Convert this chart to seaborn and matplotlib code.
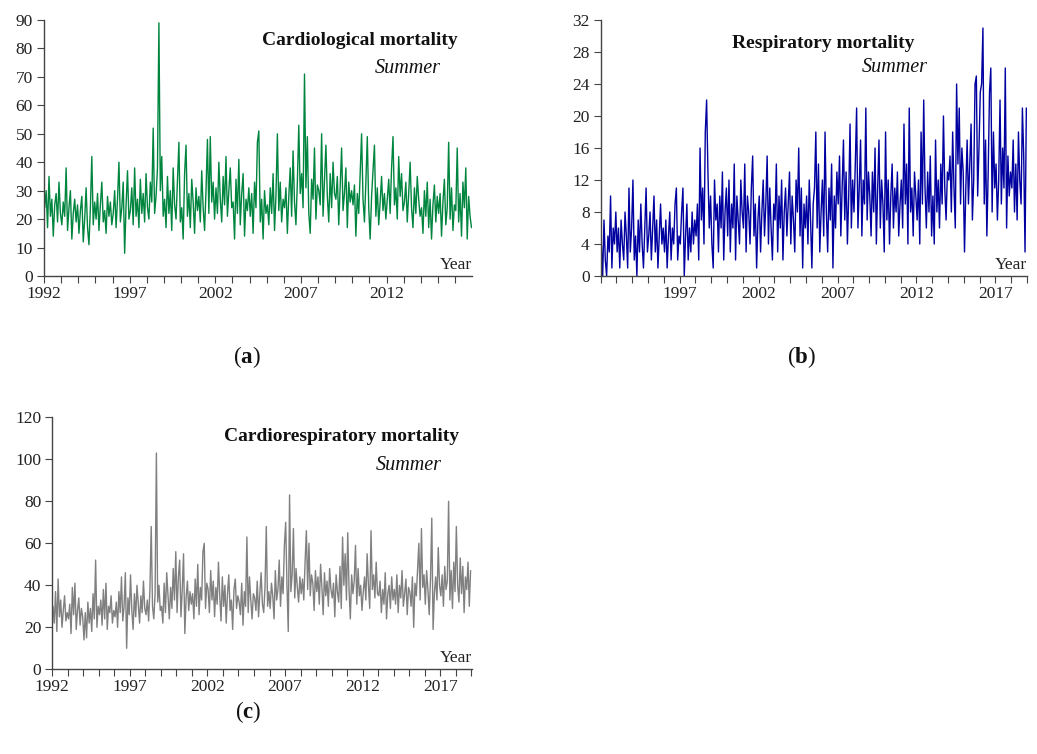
import numpy as np
import pandas as pd
import matplotlib
matplotlib.use("Agg")
import matplotlib.pyplot as plt
import seaborn as sns

sns.set_theme(style="ticks")
plt.rcParams['font.family'] = ['Liberation Serif', 'DejaVu Serif']
plt.rcParams['mathtext.fontset'] = 'custom'
plt.rcParams['mathtext.rm'] = 'Liberation Serif'
plt.rcParams['mathtext.bf'] = 'Liberation Serif:bold'

PER_YEAR = 12

# ---- Cardiological mortality, summer (1992-2016), 12 samples per year ----
cardio = [
    24, 30, 17, 35, 21, 27, 14, 25, 29, 19, 33, 22,
    18, 26, 21, 38, 16, 24, 30, 13, 22, 27, 19, 25,
    15, 23, 28, 12, 20, 31, 17, 11, 24, 42, 18, 26,
    20, 29, 16, 25, 33, 19, 23, 15, 28, 21, 26, 18,
    22, 30, 17, 27, 40, 19, 24, 33, 8, 25, 37, 20,
    23, 31, 18, 38, 21, 27, 17, 34, 22, 29, 19, 36,
    24, 20, 33, 26, 52, 22, 28, 38, 89, 30, 42, 21,
    27, 17, 35, 22, 30, 16, 38, 25, 20, 33, 47, 19,
    24, 13, 36, 46, 21, 29, 17, 34, 26, 15, 31, 23,
    28, 19, 37, 24, 16, 30, 48, 22, 49, 26, 33, 20,
    31, 22, 40, 27, 19, 35, 25, 42, 21, 30, 38, 24,
    26, 13, 34, 22, 41, 18, 29, 36, 14, 27, 23, 31,
    21, 29, 15, 33, 24, 47, 51, 19, 27, 13, 30, 22,
    25, 18, 31, 22, 36, 16, 28, 50, 23, 33, 19, 27,
    24, 31, 15, 28, 38, 21, 44, 26, 18, 33, 53, 29,
    36, 24, 71, 31, 49, 22, 15, 34, 27, 45, 20, 32,
    30, 25, 50, 21, 34, 46, 28, 19, 36, 24, 40, 29,
    27, 35, 18, 31, 45, 23, 29, 38, 17, 33, 26, 30,
    25, 32, 14, 29, 22, 36, 50, 27, 19, 33, 49, 24,
    13, 28, 37, 46, 21, 31, 18, 26, 35, 23, 29, 20,
    27, 34, 22, 38, 49, 25, 31, 20, 42, 28, 36, 23,
    26, 33, 19, 29, 40, 24, 17, 31, 22, 35, 27, 21,
    24, 15, 30, 21, 33, 17, 27, 13, 25, 32, 19, 28,
    22, 29, 14, 26, 34, 18, 24, 47, 20, 31, 16, 25,
    23, 45, 19, 29, 14, 33, 24, 38, 13, 28, 21, 17,
]

# ---- Respiratory mortality, summer (1992-2018) ----
resp = [
    4, 0, 7, 2, 0, 5, 3, 10, 1, 6, 4, 8,
    3, 6, 1, 7, 4, 2, 8, 5, 1, 11, 3, 6,
    12, 2, 5, 0, 7, 3, 9, 4, 1, 6, 11, 3,
    5, 8, 2, 6, 10, 3, 7, 1, 5, 9, 4, 6,
    3, 7, 1, 5, 8, 2, 6, 4, 9, 11, 2, 5,
    4, 8, 11, 0, 5, 9, 2, 6, 3, 8, 4, 7,
    5, 9, 2, 16, 7, 11, 4, 18, 22, 13, 6, 10,
    4, 1, 12, 7, 9, 3, 10, 6, 13, 2, 8, 11,
    5, 12, 3, 9, 6, 14, 2, 10, 7, 4, 12, 8,
    6, 14, 3, 10, 8, 4, 11, 15, 5, 9, 1, 7,
    10, 3, 8, 12, 5, 9, 15, 4, 11, 6, 2, 9,
    7, 14, 3, 10, 6, 12, 2, 8, 11, 5, 9, 13,
    4, 10, 7, 3, 12, 8, 16, 5, 11, 1, 9, 6,
    10, 4, 12, 7, 1, 9, 11, 18, 6, 14, 3, 8,
    12, 5, 18, 8, 3, 11, 7, 14, 1, 10, 6, 13,
    9, 15, 5, 11, 17, 7, 13, 4, 10, 19, 6, 12,
    8, 14, 21, 6, 11, 17, 5, 12, 9, 21, 7, 13,
    10, 5, 13, 8, 16, 4, 11, 17, 6, 12, 9, 3,
    18, 7, 12, 4, 10, 14, 6, 11, 8, 13, 5, 9,
    12, 6, 19, 9, 14, 4, 21, 8, 11, 5, 13, 10,
    7, 12, 4, 18, 9, 22, 11, 6, 13, 8, 15, 5,
    10, 4, 17, 8, 12, 6, 14, 9, 20, 11, 7, 13,
    12, 15, 8, 18, 11, 6, 24, 14, 21, 9, 16, 13,
    3, 11, 17, 9, 14, 19, 7, 12, 24, 25, 10, 16,
    23, 24, 31, 9, 17, 5, 13, 23, 26, 8, 18, 11,
    14, 7, 12, 22, 9, 16, 11, 26, 6, 15, 10, 13,
    11, 17, 8, 14, 7, 18, 12, 9, 21, 15, 3, 21,
]

# ---- Cardiorespiratory mortality, summer (1992-2018) ----
cardioresp = [
    30, 22, 37, 18, 43, 25, 33, 20, 28, 35, 23, 27,
    24, 31, 17, 39, 26, 41, 19, 28, 34, 21, 29, 25,
    14, 27, 15, 32, 22, 29, 18, 36, 24, 52, 20, 30,
    26, 33, 21, 38, 24, 41, 19, 30, 27, 35, 22, 28,
    25, 32, 20, 37, 27, 44, 23, 30, 46, 10, 34, 26,
    45, 28, 19, 36, 25, 40, 31, 22, 35, 27, 42, 29,
    26, 33, 23, 38, 68, 30, 24, 36, 103, 32, 40, 28,
    30, 22, 41, 27, 46, 35, 24, 39, 29, 48, 33, 56,
    27, 44, 52, 25, 38, 55, 17, 34, 42, 28, 37, 31,
    36, 24, 43, 30, 50, 26, 39, 33, 56, 60, 29, 41,
    38, 27, 47, 33, 42, 25, 39, 31, 51, 35, 23, 44,
    30, 40, 22, 36, 45, 28, 33, 19, 38, 43, 29, 35,
    32, 26, 41, 21, 37, 30, 63, 27, 44, 33, 24, 36,
    34, 28, 42, 25, 36, 46, 31, 27, 39, 68, 30, 37,
    29, 41, 35, 24, 47, 33, 38, 52, 30, 44, 36, 59,
    70, 40, 18, 83, 37, 45, 67, 34, 48, 39, 32, 44,
    36, 43, 33, 51, 66, 38, 60, 35, 45, 41, 28, 47,
    37, 44, 31, 50, 39, 26, 46, 35, 42, 30, 48, 38,
    34, 41, 25, 45, 37, 32, 49, 29, 63, 40, 55, 33,
    65, 38, 24, 45, 36, 42, 59, 31, 48, 35, 40, 28,
    37, 44, 33, 55, 40, 29, 66, 38, 45, 34, 51, 36,
    35, 42, 27, 38, 31, 46, 24, 36, 40, 29, 44, 33,
    38, 31, 45, 27, 40, 34, 47, 30, 36, 43, 26, 39,
    37, 30, 44, 20, 41, 35, 48, 60, 33, 67, 39, 45,
    31, 47, 38, 26, 43, 72, 19, 36, 44, 33, 58, 40,
    35, 45, 30, 49, 38, 42, 80, 33, 47, 29, 51, 37,
    68, 40, 32, 53, 36, 49, 27, 44, 38, 51, 30, 47,
]

titles = ["Cardiological mortality", "Respiratory mortality", "Cardiorespiratory mortality"]
subtitle = "Summer"
panel_labels = [r"($\mathbf{a}$)", r"($\mathbf{b}$)", r"($\mathbf{c}$)"]
colors = ["#00853F", "#0000A0", "#808080"]
y_ticks = [list(range(0, 91, 10)), list(range(0, 33, 4)), list(range(0, 121, 20))]
x_labels = [[1992, 1997, 2002, 2007, 2012],
            [1997, 2002, 2007, 2012, 2017],
            [1992, 1997, 2002, 2007, 2012, 2017]]
x_end = [2016.97, 2019.0, 2019.05]

series = [cardio, resp, cardioresp]

W, H = 1037, 754
fig = plt.figure(figsize=(W / 100, H / 100), dpi=100)

# axes boxes in pixels: left, top, right, bottom
boxes = [(44, 20, 471.7, 276), (600.7, 20, 1027, 276), (52.3, 417.3, 472, 669.3)]
title_pos = [((0.966, 0.918), (0.928, 0.809)),
             ((0.735, 0.910), (0.768, 0.8125)),
             ((0.969, 0.923), (0.928, 0.808))]
label_pos = [(247, 357), (801, 357), (248, 712)]

for i, vals in enumerate(series):
    l, t, r, b = boxes[i]
    ax = fig.add_axes([l / W, 1 - b / H, (r - l) / W, (b - t) / H])
    df = pd.DataFrame({
        "x": 1992 + (np.arange(len(vals)) + 0.5) / PER_YEAR,
        "y": vals,
    })
    sns.lineplot(data=df, x="x", y="y", ax=ax, color=colors[i], linewidth=1.0,
                 estimator=None)
    ax.set_xlim(1992, x_end[i])
    ax.set_ylim(0, y_ticks[i][-1])
    ax.set_yticks(y_ticks[i])
    ax.set_xticks(x_labels[i])
    ax.set_xticklabels([str(v) for v in x_labels[i]])
    ax.set_xticks([yr for yr in range(1992, int(x_end[i]) + 1) if yr <= x_end[i]], minor=True)
    ax.set_xlabel("")
    ax.set_ylabel("")
    for side in ["top", "right"]:
        ax.spines[side].set_visible(False)
    for side in ["left", "bottom"]:
        ax.spines[side].set_color("#444444")
        ax.spines[side].set_linewidth(1.0)
    ax.tick_params(axis="both", which="both", direction="out", length=5, width=0.8,
                   color="#444444", labelsize=12.5, labelcolor="#222222")
    ax.tick_params(axis="y", pad=3)
    ax.tick_params(axis="x", pad=2)
    (tx, ty), (sx, sy) = title_pos[i]
    ax.text(tx, ty, titles[i], transform=ax.transAxes, ha="right", va="center",
            fontsize=14, fontweight="bold", color="#111111")
    ax.text(sx, sy, subtitle, transform=ax.transAxes, ha="right", va="center",
            fontsize=14.5, fontstyle="italic", color="#111111")
    ax.text(1.0, 0.012, "Year", transform=ax.transAxes, ha="right", va="bottom",
            fontsize=12.5, color="#222222")
    lx, ly = label_pos[i]
    fig.text(lx / W, 1 - ly / H, panel_labels[i], ha="center", va="center",
             fontsize=16.5, color="#111111")

fig.savefig("out.png", dpi=100)
